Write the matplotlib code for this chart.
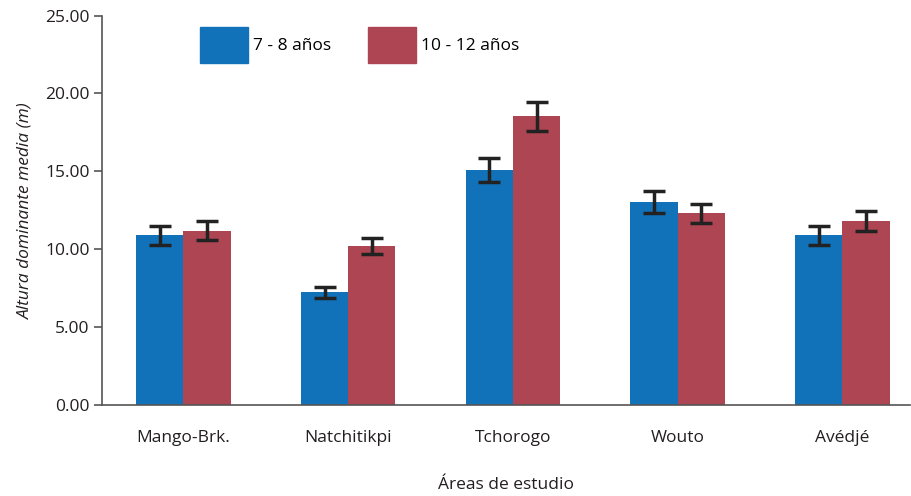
import matplotlib.pyplot as plt
import numpy as np
from matplotlib.patches import Patch

plt.rcParams['font.family'] = ['Open Sans', 'DejaVu Sans']

AREAS = ["Mango-Brk.", "Natchitikpi", "Tchorogo", "Wouto", "Avédjé"]
SERIES = ["7 - 8 años", "10 - 12 años"]
HEIGHT_7_8 = [10.9, 7.24, 15.06, 13.01, 10.9]
ERR_7_8 = [0.6, 0.35, 0.77, 0.7, 0.6]
HEIGHT_10_12 = [11.2, 10.19, 18.53, 12.31, 11.79]
ERR_10_12 = [0.62, 0.52, 0.95, 0.62, 0.63]
Y_TICKS = [0, 5, 10, 15, 20, 25]

BLUE = "#1172ba"
RED = "#ae4552"
AXIS = "#555555"
TEXT = "#231f20"
FS = 12.5


def main():
    fig = plt.figure(figsize=(9.11, 4.96), dpi=100)
    ax = fig.add_axes([102 / 911, 91 / 496, 808 / 911, 389.5 / 496])

    x = np.arange(len(AREAS))
    width = 0.287
    err_kw = dict(ecolor="#222222", elinewidth=2.5, capsize=8, capthick=2.5)
    ax.bar(x - width / 2, HEIGHT_7_8, width, color=BLUE, yerr=ERR_7_8,
           error_kw=err_kw, zorder=2)
    ax.bar(x + width / 2, HEIGHT_10_12, width, color=RED, yerr=ERR_10_12,
           error_kw=err_kw, zorder=2)

    ax.set_xlim(-0.494, 4.41)
    ax.set_ylim(0, 25)
    ax.set_yticks(Y_TICKS)
    ax.set_yticklabels([f"{t:.2f}" for t in Y_TICKS])
    ax.set_xticks(x)
    ax.set_xticklabels(AREAS)

    for side in ("top", "right"):
        ax.spines[side].set_visible(False)
    for side in ("left", "bottom"):
        ax.spines[side].set_color(AXIS)
        ax.spines[side].set_linewidth(1.2)
    ax.tick_params(axis="y", length=6, width=1.2, color=AXIS,
                   labelsize=FS, labelcolor=TEXT, pad=3)
    ax.tick_params(axis="x", length=0, labelsize=FS,
                   labelcolor=TEXT, pad=18)

    ax.set_ylabel("Altura dominante media (m)", fontsize=FS,
                  style="italic", color=TEXT, labelpad=8)
    ax.set_xlabel("Áreas de estudio", fontsize=FS, color=TEXT,
                  labelpad=22)

    handles = [Patch(color=BLUE, label=SERIES[0]),
               Patch(color=RED, label=SERIES[1])]
    fig.legend(handles=handles, loc="upper left",
               bbox_to_anchor=(200 / 911, 1 - 27 / 496), ncol=2,
               frameon=False, fontsize=FS, handlelength=2.76,
               handleheight=2.8, handletextpad=0.3, columnspacing=2.1,
               borderpad=0, borderaxespad=0)

    fig.savefig("out.png", dpi=100)


if __name__ == "__main__":
    main()
